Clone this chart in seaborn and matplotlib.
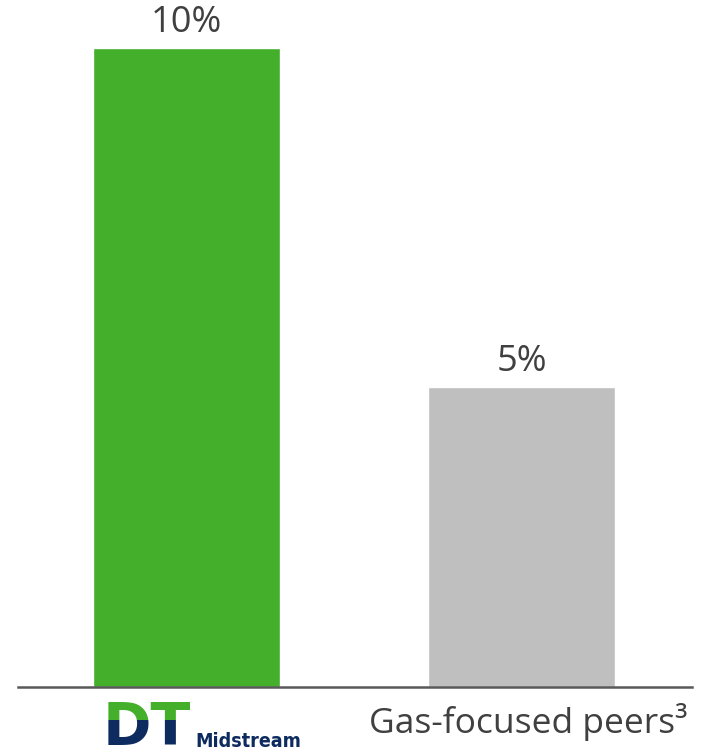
import matplotlib
matplotlib.use("Agg")
import matplotlib.pyplot as plt
import seaborn as sns
from matplotlib.patches import Rectangle

categories = ["DT Midstream", "Gas-focused peers"]
values = [10.0, 4.7]
value_labels = ["10%", "5%"]
tick_labels = ["", "Gas-focused peers³"]
colors = ["#43AF2A", "#BFBFBF"]

sns.set_style("white")
plt.rcParams["font.family"] = ["Open Sans", "DejaVu Sans"]

fig = plt.figure(figsize=(7.01, 7.51), dpi=100)
ax = fig.add_axes([18 / 701, 64 / 751, 674 / 701, 687 / 751])

sns.barplot(x=categories, y=values, hue=categories, palette=colors,
            width=0.558, legend=False, saturation=1, ax=ax)

ax.set_xlim(-0.503, 1.509)
ax.set_ylim(0, 10.75)
ax.set_yticks([])
ax.set_xticks([])
ax.set_xlabel("")
ax.set_ylabel("")
for s in ["top", "right", "left"]:
    ax.spines[s].set_visible(False)
ax.spines["bottom"].set_color("#595959")
ax.spines["bottom"].set_linewidth(1.8)

# value labels above bars
for i, (v, lab) in enumerate(zip(values, value_labels)):
    ax.annotate(lab, (i, v), xytext=(0, 5), textcoords="offset points",
                ha="center", va="bottom", fontsize=26, color="#404040",
                clip_on=False)

# category labels
for i, lab in enumerate(tick_labels):
    if lab:
        ax.text(i + 0.02, -0.051, lab, transform=ax.get_xaxis_transform(),
                ha="center", va="center", fontsize=25.5, color="#404040")

# DT Midstream logo (two-tone text)
split = 1 - 720 / 751
for col, y0, h in [("#43AF2A", split, 1 - split), ("#0D2B5E", 0, split)]:
    t = fig.text(103 / 701, 1 - 745 / 751, "DT", fontsize=42,
                 fontweight="heavy", family="DejaVu Sans", color=col,
                 ha="left", va="baseline")
    clip = Rectangle((0, y0), 1, h, transform=fig.transFigure)
    t.set_clip_path(clip)
fig.text(195 / 701, 1 - 747 / 751, "Midstream", fontsize=14,
         fontweight="bold", family="DejaVu Sans", fontstretch="condensed",
         color="#0D2B5E", ha="left", va="baseline")

fig.savefig("out.png", dpi=100)
